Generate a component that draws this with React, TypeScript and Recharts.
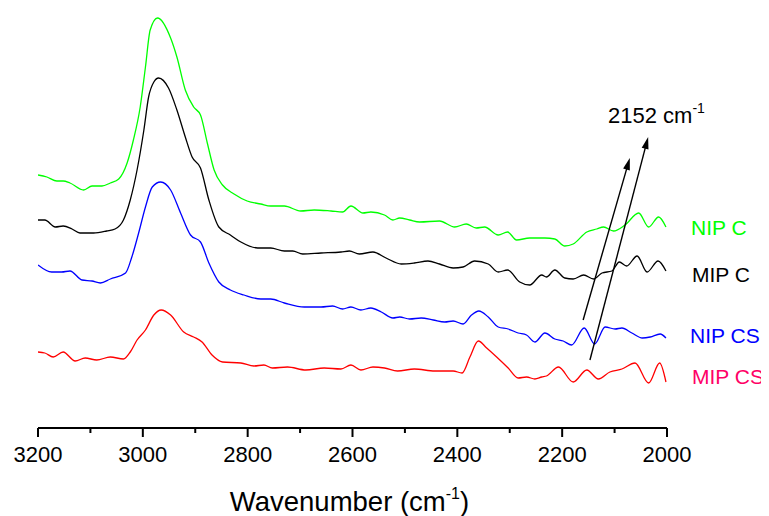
import React from "react";
import { LineChart, Line, XAxis, YAxis, ReferenceLine } from "recharts";

// Wavenumber ticks (cm-1)
const tickValues = [3200, 3100, 3000, 2900, 2800, 2700, 2600, 2500, 2400, 2300, 2200, 2100, 2000];

// NIP C (green)
const nipCWave = [3200,3183,3164,3152,3139,3113,3097,3078,3062,3046,3030,3018,3005,2995,2986,2972,2947,2935,2919,2903,2890,2877,2864,2848,2826,2801,2775,2756,2730,2699,2673,2641,2619,2603,2580,2565,2539,2523,2510,2491,2472,2434,2405,2383,2364,2348,2322,2304,2287,2262,2233,2214,2195,2179,2153,2134,2121,2102,2080,2054,2035,2016,2002];
const nipCVal = [253,251,247,247,245,238,242,242,245,249,265,288,321,361,398,410,390,371,338,321,313,285,258,243,234,227,224,222,222,217,218,217,216,222,215,216,213,208,210,208,206,207,201,204,200,201,193,196,188,190,190,189,182,184,196,199,201,197,203,215,201,211,201];

// MIP C (black)
const mipCWave = [3200,3187,3167,3152,3135,3120,3094,3069,3053,3037,3024,3011,2998,2989,2979,2970,2951,2935,2919,2906,2890,2874,2855,2833,2813,2781,2756,2730,2714,2695,2660,2622,2606,2587,2561,2536,2507,2482,2456,2434,2408,2389,2367,2341,2322,2304,2281,2262,2239,2230,2214,2195,2179,2159,2140,2124,2105,2091,2077,2057,2038,2017,2002];
const mipCVal = [208,208,201,202,199,195,195,197,199,208,228,258,298,331,346,350,340,318,291,271,260,228,201,193,186,180,180,177,177,174,175,176,177,174,176,170,164,165,167,164,160,161,167,164,156,158,146,143,153,151,158,150,149,153,149,155,157,166,162,172,156,167,157];

// NIP CS (blue)
const nipCSWave = [3200,3174,3155,3139,3116,3097,3081,3062,3033,3021,3008,2995,2982,2966,2947,2928,2909,2890,2874,2855,2833,2807,2775,2756,2730,2692,2660,2638,2619,2603,2584,2565,2545,2523,2510,2491,2469,2446,2424,2408,2389,2373,2359,2341,2322,2303,2284,2268,2252,2233,2214,2198,2182,2158,2138,2118,2099,2086,2067,2047,2032,2013,2002];
const nipCSVal = [163,156,156,157,148,147,145,149,155,171,195,221,241,246,238,215,193,186,165,146,138,133,129,129,125,121,121,122,119,121,118,120,116,110,111,109,110,108,106,107,104,113,117,111,101,99,95,93,86,95,89,87,83,100,84,101,99,100,95,90,91,94,90];

// MIP CS (red)
const mipCSWave = [3200,3187,3171,3152,3129,3110,3088,3062,3037,3024,3011,2995,2979,2965,2947,2922,2903,2887,2868,2848,2813,2788,2769,2753,2724,2689,2654,2622,2603,2584,2561,2539,2514,2482,2443,2408,2391,2376,2360,2344,2325,2303,2284,2268,2252,2239,2230,2207,2179,2153,2131,2109,2086,2061,2035,2014,2002];
const mipCSVal = [76,75,71,76,67,70,68,71,69,76,88,98,113,118,113,96,91,86,73,66,65,62,63,60,61,58,60,59,63,58,61,60,57,59,57,57,55,71,87,80,71,60,50,51,49,51,52,61,46,58,49,56,59,65,45,65,46];

// Annotation arrows (wavenumber, intensity)
const arrow1 = [{ x: 2160, y: 108 }, { x: 2071, y: 270 }];
const arrow2 = [{ x: 2147, y: 68 }, { x: 2036, y: 291 }];

const toData = (w: number[], v: number[]) => w.map((x, i) => ({ w: x, v: v[i] }));

const FONT = "'Liberation Sans', Arial, Helvetica, sans-serif";

const Tick = (props: any) => {
  const { x, y, payload } = props;
  const major = payload.value % 200 === 0;
  return (
    <g>
      <line x1={x} x2={x} y1={y} y2={y + (major ? 9 : 5)} stroke="#000" strokeWidth={2} />
      {major && (
        <text x={x} y={y + 34} textAnchor="middle" fontSize={22} fontFamily={FONT} fill="#000">
          {payload.value}
        </text>
      )}
    </g>
  );
};

const Arrow = (props: any) => {
  const { x1, y1, x2, y2 } = props;
  const dx = x2 - x1;
  const dy = y2 - y1;
  const len = Math.sqrt(dx * dx + dy * dy) || 1;
  const ux = dx / len;
  const uy = dy / len;
  const hl = 12;
  const hw = 3.5;
  const bx = x2 - ux * hl;
  const by = y2 - uy * hl;
  const pts = `${x2},${y2} ${bx - uy * hw},${by + ux * hw} ${bx + uy * hw},${by - ux * hw}`;
  return (
    <g>
      <line x1={x1} y1={y1} x2={bx + ux * 2} y2={by + uy * 2} stroke="#000" strokeWidth={1.4} />
      <polygon points={pts} fill="#000" />
    </g>
  );
};

const labels = [
  { text: "NIP C", color: "#00FF00", x: 683, y: 227 },
  { text: "MIP C", color: "#000000", x: 684, y: 274 },
  { text: "NIP CS", color: "#0000FF", x: 682, y: 335 },
  { text: "MIP CS", color: "#FF0066", x: 684, y: 376 },
];

export default function App() {
  const W = 761;
  const H = 508;
  return (
    <div style={{ position: "relative", width: W, height: H }}>
      <LineChart width={W} height={H} margin={{ top: 0, right: 102, bottom: 0, left: 30 }}>
        <XAxis
          dataKey="w"
          type="number"
          domain={[2000, 3200]}
          reversed
          ticks={tickValues}
          interval={0}
          tick={<Tick />}
          tickLine={false}
          tickSize={0}
          tickMargin={0}
          axisLine={{ stroke: "#000", strokeWidth: 2 }}
          height={88}
          allowDataOverflow
        />
        <YAxis hide type="number" domain={[0, 420]} allowDataOverflow />
        <Line data={toData(nipCWave, nipCVal)} dataKey="v" type="monotone" stroke="#00FF00" strokeWidth={1.3} dot={false} isAnimationActive={false} />
        <Line data={toData(mipCWave, mipCVal)} dataKey="v" type="monotone" stroke="#000000" strokeWidth={1.3} dot={false} isAnimationActive={false} />
        <Line data={toData(nipCSWave, nipCSVal)} dataKey="v" type="monotone" stroke="#0000FF" strokeWidth={1.3} dot={false} isAnimationActive={false} />
        <Line data={toData(mipCSWave, mipCSVal)} dataKey="v" type="monotone" stroke="#FF0000" strokeWidth={1.3} dot={false} isAnimationActive={false} />
        <ReferenceLine segment={arrow1} shape={<Arrow />} ifOverflow="visible" />
        <ReferenceLine segment={arrow2} shape={<Arrow />} ifOverflow="visible" />
      </LineChart>
      <svg width={W} height={H} style={{ position: "absolute", left: 0, top: 0, pointerEvents: "none" }}>
        <text x={600} y={115} fontSize={22} fontFamily={FONT} fill="#000">
          2152 cm
          <tspan fontSize={14} dy={-10}>-1</tspan>
        </text>
        {labels.map((l) => (
          <text key={l.text} x={l.x} y={l.y} fontSize={21} fontFamily={FONT} fill={l.color}>
            {l.text}
          </text>
        ))}
        <text x={341.5} y={502.5} textAnchor="middle" fontSize={27.5} fontFamily={FONT} fill="#000">
          Wavenumber (cm
          <tspan fontSize={16} dy={-12}>-1</tspan>
          <tspan dy={12}>)</tspan>
        </text>
      </svg>
    </div>
  );
}
